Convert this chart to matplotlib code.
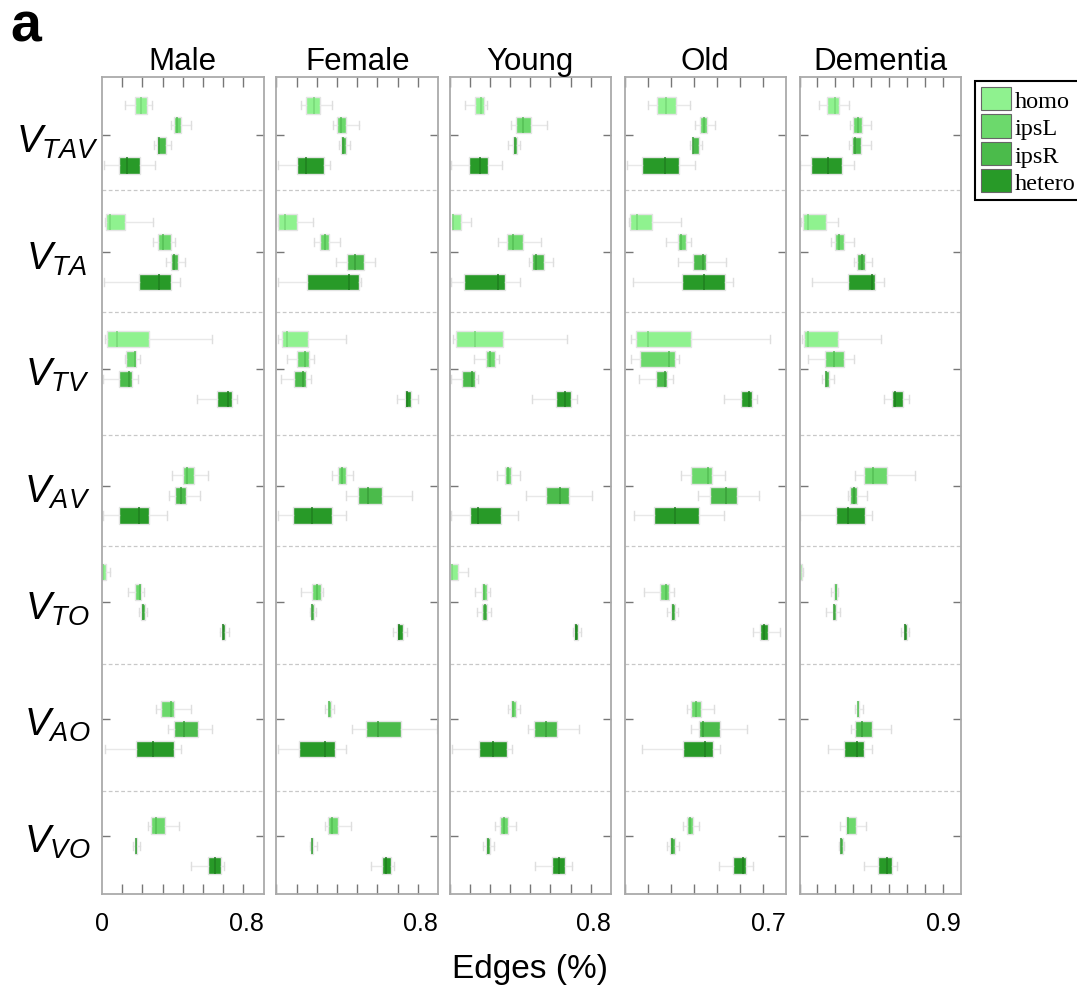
import matplotlib.pyplot as plt
from matplotlib.patches import Patch
from matplotlib.transforms import blended_transform_factory
from matplotlib.ticker import MultipleLocator

plt.rcParams['font.family'] = ['Liberation Sans', 'DejaVu Sans']
plt.rcParams['mathtext.fontset'] = 'custom'
plt.rcParams['mathtext.it'] = 'Liberation Sans:italic'
plt.rcParams['mathtext.rm'] = 'Liberation Sans'

panels = ['Male', 'Female', 'Young', 'Old', 'Dementia']
panel_max = [0.8, 0.8, 0.8, 0.7, 0.9]
rows = ['TAV', 'TA', 'TV', 'AV', 'TO', 'AO', 'VO']
series = ['homo', 'ipsL', 'ipsR', 'hetero']
colors = ['#8ff28f', '#6cd96c', '#4bbb4b', '#289a28']
median_colors = ['#78d878', '#55bf55', '#3a9f3a', '#1f7f1f']

# (whislo, q1, median, q3, whishi) for each row; None = no box
male_homo = [(0.112, 0.165, 0.195, 0.223, 0.248), (0.013, 0.021, 0.041, 0.116, 0.251),
             (0.013, 0.023, 0.074, 0.233, 0.545), None,
             (0.0, 0.0, 0.003, 0.020, 0.040), None, None]
male_ipsL = [(0.340, 0.357, 0.372, 0.393, 0.441), (0.255, 0.278, 0.301, 0.342, 0.362),
             (0.112, 0.121, 0.165, 0.170, 0.190), (0.347, 0.400, 0.421, 0.455, 0.527),
             (0.131, 0.165, 0.187, 0.193, 0.207), (0.269, 0.291, 0.340, 0.357, 0.440),
             (0.228, 0.243, 0.268, 0.311, 0.383)]
male_ipsR = [(0.258, 0.271, 0.283, 0.317, 0.344), (0.317, 0.342, 0.357, 0.374, 0.410),
             (0.005, 0.083, 0.134, 0.150, 0.180), (0.331, 0.364, 0.390, 0.417, 0.486),
             (0.183, 0.195, 0.203, 0.215, 0.223), (0.329, 0.355, 0.405, 0.476, 0.544),
             (0.154, 0.162, 0.167, 0.174, 0.187)]
male_hetero = [(0.010, 0.083, 0.124, 0.187, 0.264), (0.010, 0.185, 0.283, 0.344, 0.387),
               (0.471, 0.569, 0.626, 0.643, 0.669), (0.005, 0.083, 0.183, 0.231, 0.322),
               (0.583, 0.595, 0.600, 0.608, 0.628), (0.017, 0.169, 0.255, 0.355, 0.392),
               (0.443, 0.527, 0.560, 0.588, 0.603)]

female_homo = [(0.121, 0.148, 0.188, 0.216, 0.274), (0.008, 0.008, 0.040, 0.100, 0.183),
               (0.007, 0.025, 0.050, 0.158, 0.342), None, None, None, None]
female_ipsL = [(0.282, 0.301, 0.319, 0.346, 0.407), (0.184, 0.216, 0.241, 0.262, 0.317),
               (0.050, 0.100, 0.141, 0.163, 0.184), (0.274, 0.304, 0.324, 0.346, 0.379),
               (0.120, 0.178, 0.199, 0.221, 0.228), (0.241, 0.254, 0.262, 0.271, 0.287),
               (0.238, 0.254, 0.277, 0.304, 0.367)]
female_ipsR = [(0.311, 0.321, 0.329, 0.342, 0.365), (0.296, 0.350, 0.389, 0.434, 0.487),
               (0.023, 0.088, 0.133, 0.146, 0.171), (0.342, 0.404, 0.455, 0.525, 0.671),
               (0.166, 0.171, 0.178, 0.184, 0.196), (0.375, 0.444, 0.505, 0.615, 0.797),
               (0.168, 0.173, 0.178, 0.183, 0.199)]
female_hetero = [(0.008, 0.101, 0.148, 0.234, 0.267), (0.008, 0.150, 0.359, 0.409, 0.417),
                 (0.598, 0.636, 0.648, 0.666, 0.699), (0.008, 0.080, 0.178, 0.276, 0.342),
                 (0.575, 0.598, 0.606, 0.626, 0.648), (0.008, 0.111, 0.238, 0.292, 0.342),
                 (0.468, 0.522, 0.540, 0.565, 0.581)]

young_homo = [(0.079, 0.127, 0.155, 0.172, 0.185), (0.013, 0.013, 0.017, 0.055, 0.106),
              (0.017, 0.030, 0.126, 0.264, 0.583), None,
              (0.005, 0.005, 0.010, 0.043, 0.093), None, None]
young_ipsL = [(0.306, 0.329, 0.365, 0.403, 0.481), (0.241, 0.283, 0.316, 0.364, 0.453),
              (0.121, 0.180, 0.200, 0.223, 0.245), (0.236, 0.274, 0.288, 0.306, 0.347),
              (0.124, 0.159, 0.172, 0.185, 0.200), (0.291, 0.307, 0.317, 0.327, 0.347),
              (0.223, 0.251, 0.269, 0.291, 0.331)]
young_ipsR = [(0.291, 0.316, 0.322, 0.334, 0.350), (0.395, 0.407, 0.428, 0.468, 0.512),
              (0.005, 0.060, 0.112, 0.124, 0.140), (0.380, 0.476, 0.547, 0.593, 0.707),
              (0.137, 0.162, 0.174, 0.187, 0.205), (0.390, 0.417, 0.476, 0.531, 0.643),
              (0.167, 0.182, 0.193, 0.202, 0.221)]
young_hetero = [(0.005, 0.099, 0.152, 0.193, 0.258), (0.005, 0.071, 0.240, 0.276, 0.349),
                (0.410, 0.526, 0.570, 0.603, 0.633), (0.005, 0.101, 0.139, 0.255, 0.340),
                (0.610, 0.617, 0.625, 0.636, 0.650), (0.013, 0.147, 0.215, 0.284, 0.312),
                (0.426, 0.509, 0.540, 0.572, 0.608)]

old_homo = [(0.103, 0.139, 0.182, 0.222, 0.286), (0.019, 0.025, 0.055, 0.119, 0.244),
            (0.028, 0.052, 0.104, 0.289, 0.630), None, None, None, None]
old_ipsL = [(0.305, 0.329, 0.346, 0.358, 0.394), (0.182, 0.230, 0.247, 0.266, 0.290),
            (0.027, 0.067, 0.191, 0.220, 0.238), (0.247, 0.290, 0.362, 0.381, 0.437),
            (0.086, 0.152, 0.181, 0.194, 0.215), (0.273, 0.287, 0.308, 0.332, 0.388),
            (0.254, 0.269, 0.283, 0.299, 0.322)]
old_ipsR = [(0.283, 0.292, 0.299, 0.322, 0.334), (0.230, 0.295, 0.341, 0.354, 0.441),
            (0.061, 0.135, 0.174, 0.184, 0.212), (0.320, 0.372, 0.439, 0.486, 0.583),
            (0.186, 0.202, 0.209, 0.218, 0.233), (0.289, 0.323, 0.341, 0.413, 0.532),
            (0.184, 0.197, 0.207, 0.220, 0.235)]
old_hetero = [(0.009, 0.076, 0.174, 0.237, 0.306), (0.038, 0.250, 0.345, 0.434, 0.470),
              (0.431, 0.505, 0.541, 0.554, 0.573), (0.041, 0.126, 0.220, 0.323, 0.433),
              (0.557, 0.587, 0.605, 0.624, 0.675), (0.078, 0.254, 0.349, 0.384, 0.414),
              (0.410, 0.472, 0.514, 0.526, 0.557)]

dementia_homo = [(0.111, 0.156, 0.197, 0.219, 0.275), (0.009, 0.020, 0.046, 0.148, 0.217),
                 (0.013, 0.026, 0.050, 0.217, 0.456), None,
                 (0.0, 0.0, 0.003, 0.013, 0.020), None, None]
dementia_ipsL = [(0.284, 0.297, 0.327, 0.349, 0.401), (0.176, 0.199, 0.219, 0.249, 0.302),
                 (0.046, 0.143, 0.193, 0.247, 0.302), (0.312, 0.358, 0.408, 0.488, 0.642),
                 (0.176, 0.195, 0.202, 0.210, 0.217), (0.310, 0.321, 0.326, 0.334, 0.352),
                 (0.224, 0.260, 0.273, 0.313, 0.373)]
dementia_ipsR = [(0.278, 0.293, 0.310, 0.341, 0.401), (0.306, 0.321, 0.347, 0.363, 0.406),
                 (0.124, 0.141, 0.148, 0.167, 0.195), (0.269, 0.284, 0.304, 0.323, 0.378),
                 (0.146, 0.184, 0.195, 0.206, 0.223), (0.287, 0.311, 0.350, 0.402, 0.510),
                 (0.222, 0.226, 0.232, 0.241, 0.250)]
dementia_hetero = [(0.004, 0.065, 0.157, 0.239, 0.306), (0.072, 0.269, 0.402, 0.423, 0.469),
                   (0.473, 0.517, 0.532, 0.577, 0.610), (0.004, 0.204, 0.273, 0.367, 0.402),
                   (0.566, 0.580, 0.586, 0.601, 0.610), (0.158, 0.249, 0.319, 0.360, 0.402),
                   (0.358, 0.440, 0.490, 0.516, 0.542)]

data = {
    'Male': [male_homo, male_ipsL, male_ipsR, male_hetero],
    'Female': [female_homo, female_ipsL, female_ipsR, female_hetero],
    'Young': [young_homo, young_ipsL, young_ipsR, young_hetero],
    'Old': [old_homo, old_ipsL, old_ipsR, old_hetero],
    'Dementia': [dementia_homo, dementia_ipsL, dementia_ipsR, dementia_hetero],
}

offsets = [-0.257, -0.086, 0.086, 0.257]
separators = [1.47, 2.51, 3.57, 4.52, 5.53, 6.62]
lefts = [102, 276.5, 449.5, 624.5, 799.5]

fig = plt.figure(figsize=(10.77, 9.95), dpi=100)
axes = []
for p, name in enumerate(panels):
    ax = fig.add_axes([lefts[p] / 1077, 1 - 895 / 995, 161.5 / 1077, 817 / 995])
    axes.append(ax)
    for s in range(4):
        stats, pos = [], []
        for r, vals in enumerate(data[name][s]):
            if vals is None:
                continue
            lo, q1, med, q3, hi = vals
            stats.append(dict(whislo=lo, q1=q1, med=med, q3=q3, whishi=hi))
            pos.append(r + 1 + offsets[s])
        ax.bxp(stats, positions=pos, widths=0.14, capwidths=0.07,
               orientation='horizontal', patch_artist=True, showfliers=False,
               boxprops=dict(facecolor=colors[s], edgecolor='#e4e4e4', linewidth=1),
               medianprops=dict(color=median_colors[s], linewidth=1.1),
               whiskerprops=dict(color='#e8e8e8', linewidth=1),
               capprops=dict(color='#dedede', linewidth=1),
               manage_ticks=False)
    for y in separators:
        ax.axhline(y, color='#c8c8c8', linestyle=(0, (3, 2)), linewidth=0.9)
    ax.set_xlim(0, panel_max[p])
    ax.set_ylim(7.5, 0.5)
    ax.set_yticks(range(1, 8))
    ax.set_yticklabels([])
    ax.tick_params(axis='y', direction='in', length=6, color='#777777',
                   left=True, right=True, width=1)
    if p == 0:
        ax.set_xticks([0, panel_max[p]])
        ax.set_xticklabels(['0', '%g' % panel_max[p]])
        ax.get_xticklabels()[1].set_ha('right')
    else:
        ax.set_xticks([panel_max[p]])
        ax.set_xticklabels(['%g' % panel_max[p]])
        ax.get_xticklabels()[0].set_ha('right')
    ax.tick_params(axis='x', which='major', length=0, pad=12, labelsize=18)
    ax.xaxis.set_minor_locator(MultipleLocator(0.1))
    ax.tick_params(axis='x', which='minor', direction='in', length=7,
                   color='#777777', top=True, bottom=True, width=1)
    for sp in ax.spines.values():
        sp.set_color('#aaaaaa')
        sp.set_linewidth(1.3)
    ax.set_title(name, fontsize=22.5, pad=6)

trans = blended_transform_factory(fig.transFigure, axes[0].transData)
for r, row in enumerate(rows):
    fig.text(57 / 1077, r + 1.05, r'$V_{%s}$' % row, transform=trans,
             ha='center', va='center', fontsize=28)

fig.text(530 / 1077, 1 - 970 / 995, 'Edges (%)', ha='center', va='center', fontsize=24)
fig.text(10 / 1077, 1 - 28 / 995, 'a', ha='left', va='center', fontsize=40,
         fontweight='bold')

handles = [Patch(facecolor=c, edgecolor='#666666', linewidth=0.8) for c in colors]
leg = fig.legend(handles, series, loc='upper left',
                 bbox_to_anchor=(975 / 1077, 1 - 82 / 995),
                 prop={'family': 'Liberation Serif', 'size': 17.5},
                 handlelength=1.25, handleheight=1.1, handletextpad=0.12,
                 labelspacing=0.1, borderpad=0.25, borderaxespad=0,
                 fancybox=False, framealpha=1)
leg.get_frame().set_edgecolor('black')
leg.get_frame().set_linewidth(1.5)

fig.savefig('out.png', dpi=100)
